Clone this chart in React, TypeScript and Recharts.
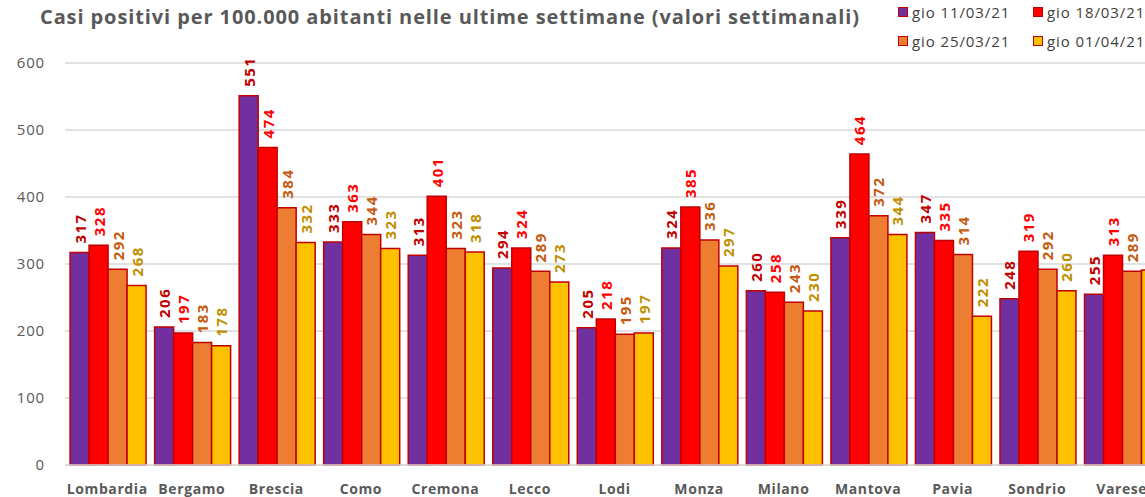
import React from "react";
import { BarChart, Bar, XAxis, YAxis, CartesianGrid, LabelList } from "recharts";

const categories = ["Lombardia", "Bergamo", "Brescia", "Como", "Cremona", "Lecco", "Lodi", "Monza", "Milano", "Mantova", "Pavia", "Sondrio", "Varese"];
const s1 = [317, 206, 551, 333, 313, 294, 205, 324, 260, 339, 347, 248, 255];
const s2 = [328, 197, 474, 363, 401, 324, 218, 385, 258, 464, 335, 319, 313];
const s3 = [292, 183, 384, 344, 323, 289, 195, 336, 243, 372, 314, 292, 289];
const s4 = [268, 178, 332, 323, 318, 273, 197, 297, 230, 344, 222, 260, 291];
const seriesNames = ["gio 11/03/21", "gio 18/03/21", "gio 25/03/21", "gio 01/04/21"];
const yTicks = [0, 100, 200, 300, 400, 500, 600];

const fills = ["#7030A0", "#FF0000", "#ED7D31", "#FFC000"];
const labelColors = ["#C00000", "#FF0000", "#C55A11", "#BF9000"];
const FONT = "'Open Sans', 'Liberation Sans', sans-serif";

const data = categories.map((c, i) => ({ name: c, s1: s1[i], s2: s2[i], s3: s3[i], s4: s4[i] }));

const makeLabel = (color: string) => (props: any) => {
  const { x, y, width, value } = props;
  const cx = x + width / 2;
  const ty = y - 9;
  return (
    <text
      x={cx}
      y={ty}
      transform={`rotate(-90, ${cx}, ${ty})`}
      textAnchor="start"
      dominantBaseline="central"
      fill={color}
      fontSize={15}
      fontWeight="bold"
      letterSpacing={1.5}
      fontFamily={FONT}
    >
      {value}
    </text>
  );
};

export default function App() {
  const keys = ["s1", "s2", "s3", "s4"];
  return (
    <div style={{ position: "fixed", left: 0, top: 0, width: 1145, height: 497, overflow: "hidden", background: "#fff" }}>
      <div style={{ position: "absolute", left: 40, top: 3, fontFamily: FONT, fontWeight: "bold", fontSize: 20, letterSpacing: 0.9, color: "#595959", whiteSpace: "nowrap" }}>
        Casi positivi per 100.000 abitanti nelle ultime settimane (valori settimanali)
      </div>
      {seriesNames.map((n, i) => (
        <div
          key={n}
          style={{
            position: "absolute",
            left: i % 2 === 0 ? 898 : 1033,
            top: i < 2 ? 2 : 31,
            display: "flex",
            alignItems: "center",
            fontFamily: FONT,
            fontSize: 15,
            letterSpacing: 0.9,
            color: "#404040",
            whiteSpace: "nowrap",
          }}
        >
          <span style={{ display: "inline-block", width: 8, height: 8, background: fills[i], border: "1.5px solid #C00000", marginRight: 4 }} />
          {n}
        </div>
      ))}
      <div style={{ position: "absolute", left: 0, top: 0 }}>
        <BarChart
          width={1164}
          height={497}
          data={data}
          margin={{ top: 63, right: 0, bottom: 0, left: 0 }}
          barCategoryGap="6%"
          barGap={0}
        >
          <CartesianGrid vertical={false} stroke="#D9D9D9" strokeWidth={1.5} />
          <XAxis
            dataKey="name"
            height={32}
            axisLine={{ stroke: "#D9D9D9", strokeWidth: 1.5 }}
            tickLine={false}
            interval={0}
            tick={{ fill: "#595959", fontSize: 14, fontWeight: "bold", fontFamily: FONT, letterSpacing: 0.6 }}
            tickMargin={13}
          />
          <YAxis
            width={65}
            domain={[0, 600]}
            ticks={yTicks}
            axisLine={false}
            tickLine={false}
            tick={{ fill: "#595959", fontSize: 15, fontFamily: FONT, letterSpacing: 0.8 }}
            tickMargin={14}
          />
          {keys.map((k, i) => (
            <Bar key={k} dataKey={k} fill={fills[i]} stroke="#C00000" strokeWidth={1.5} isAnimationActive={false}>
              <LabelList dataKey={k} content={makeLabel(labelColors[i])} />
            </Bar>
          ))}
        </BarChart>
      </div>
    </div>
  );
}
